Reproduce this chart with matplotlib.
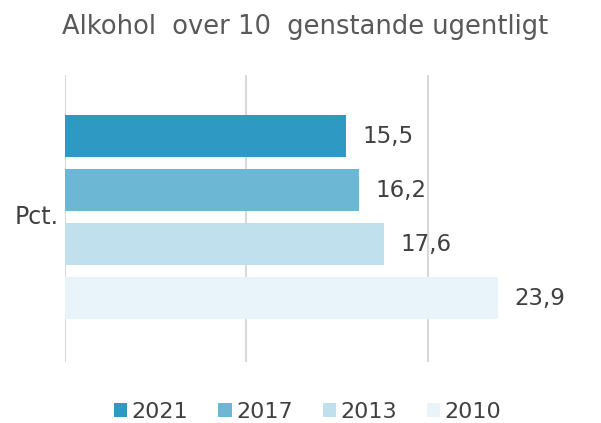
import matplotlib
matplotlib.use("Agg")
import matplotlib.pyplot as plt
from matplotlib.patches import Patch

title = "Alkohol  over 10  genstande ugentligt"
category = "Pct."
years = ["2021", "2017", "2013", "2010"]
values = [15.5, 16.2, 17.6, 23.9]
colors = ["#2E9AC4", "#6BB7D4", "#C1E0EE", "#E8F4FA"]

W, H = 601, 423
fig = plt.figure(figsize=(W / 100, H / 100), dpi=100)
left, right = 65 / W, 560 / W
top, bottom = 1 - 75 / H, 1 - 362 / H
ax = fig.add_axes([left, bottom, right - left, top - bottom])

pos = list(range(len(years)))
ax.barh(pos, values, height=42 / 54, color=colors, zorder=2)
ax.set_ylim(4.185, -1.13)
ax.set_xlim(0, 27.3)
ax.set_xticks([0, 10, 20])
ax.xaxis.grid(True, color="#d9d9d9", linewidth=1.5, zorder=0)
ax.tick_params(axis="both", length=0, labelbottom=False, labelleft=False)
ax.set_yticks([])
for s in ax.spines.values():
    s.set_visible(False)

txt = "#404040"
for p, v in zip(pos, values):
    ax.text(v + 0.9, p, f"{v:.1f}".replace(".", ","), va="center", ha="left",
            fontsize=16.5, color=txt)

ax.text(-0.012, 1.5, category, transform=ax.get_yaxis_transform(), ha="right",
        va="center", fontsize=17, color=txt)

fig.text(0.508, 1 - 34 / H, title, ha="center", va="baseline", fontsize=18.5, color="#595959")

handles = [Patch(facecolor=c, edgecolor="none") for c in colors]
fig.legend(handles, years, loc="center", bbox_to_anchor=(0.512, 1 - 412 / H), ncol=4,
           frameon=False, fontsize=16, handlelength=0.6, handleheight=0.6,
           handletextpad=0.2, columnspacing=1.35, labelcolor="#404040")

fig.savefig("out.png", dpi=100)
